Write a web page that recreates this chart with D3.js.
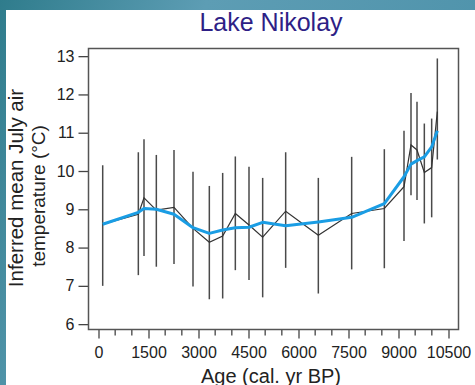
<!DOCTYPE html>
<html>
<head>
<meta charset="utf-8">
<script src="https://cdn.jsdelivr.net/npm/d3@7"></script>
<style>
  html, body { margin: 0; padding: 0; background: #fff; }
  svg { display: block; font-family: "Liberation Sans", Arial, sans-serif; }
</style>
</head>
<body>
<script>
// sample ages (cal. yr BP)
const ages = [126, 1195, 1365, 1735, 2265, 2835, 3325, 3725, 4105, 4515, 4925,
  5615, 6595, 7595, 8575, 9165, 9375, 9555, 9775, 9995, 10165];
// inferred July temperature (black line)
const temps = [8.61, 8.87, 9.30, 8.98, 9.05, 8.50, 8.14, 8.30, 8.89, 8.59, 8.27,
  8.95, 8.32, 8.89, 9.02, 9.59, 10.68, 10.55, 9.96, 10.09, 11.55];
// error bar ends
const errHigh = [10.15, 10.49, 10.83, 10.42, 10.55, 9.98, 9.61, 9.95, 10.38, 10.11, 9.82,
  10.49, 9.82, 10.37, 10.57, 11.05, 12.04, 11.81, 11.24, 11.37, 12.94];
const errLow = [7.00, 7.28, 7.78, 7.50, 7.57, 6.98, 6.65, 6.67, 7.41, 7.15, 6.70,
  7.47, 6.80, 7.43, 7.46, 8.17, 9.37, 9.24, 8.63, 8.79, 10.30];
// smoothed curve (blue)
const smooth = [8.61, 8.92, 9.02, 9.00, 8.87, 8.52, 8.37, 8.46, 8.52, 8.53, 8.66,
  8.57, 8.67, 8.79, 9.15, 9.85, 10.18, 10.27, 10.37, 10.63, 11.05];

const yTicks = [6, 7, 8, 9, 10, 11, 12, 13];
const xTicks = [0, 1500, 3000, 4500, 6000, 7500, 9000, 10500];
const xMinor = d3.range(0, 10501, 500).filter(v => v % 1500 !== 0);

const width = 475, height = 385;
const mLeft = 88.5, mRight = 458.5, mTop = 48.5, mBottom = 329.5;

const svg = d3.select("body").append("svg")
  .attr("width", width)
  .attr("height", height);

// teal background with white panel
const defs = svg.append("defs");
const grad = defs.append("linearGradient").attr("id", "bg")
  .attr("x1", 0).attr("y1", 0).attr("x2", 1).attr("y2", 0.3);
grad.append("stop").attr("offset", "0%").attr("stop-color", "#2f7c8c");
grad.append("stop").attr("offset", "40%").attr("stop-color", "#5d9db4");
grad.append("stop").attr("offset", "100%").attr("stop-color", "#4f93ab");
svg.append("rect").attr("width", width).attr("height", height).attr("fill", "url(#bg)");
svg.append("rect").attr("x", 6).attr("y", 10)
  .attr("width", width - 6).attr("height", height - 10).attr("fill", "#fff");

const x = d3.scaleLinear().domain([-300, 10800]).range([mLeft, mRight]);
const y = d3.scaleLinear().domain([5.86, 13.2]).range([mBottom, mTop]);

// title
svg.append("text")
  .attr("x", 271).attr("y", 31)
  .attr("text-anchor", "middle")
  .attr("font-size", 25)
  .attr("fill", "#2e1f86")
  .text("Lake Nikolay");

// y axis
const yAxis = svg.append("g")
  .attr("transform", "translate(" + mLeft + ",0)")
  .call(d3.axisLeft(y).tickValues(yTicks).tickSize(10).tickPadding(4));
yAxis.select(".domain").remove();
yAxis.selectAll("line").attr("stroke", "#444").attr("stroke-width", 1.3);
yAxis.selectAll("text").attr("font-size", 16).attr("fill", "#222")
  .attr("font-family", "Liberation Sans, Arial, sans-serif");

// x axis (major + minor)
const xAxis = svg.append("g")
  .attr("transform", "translate(0," + mBottom + ")")
  .call(d3.axisBottom(x).tickValues(xTicks).tickSize(9).tickPadding(8)
    .tickFormat(d3.format("d")));
xAxis.select(".domain").remove();
xAxis.selectAll("line").attr("stroke", "#444").attr("stroke-width", 1.3);
xAxis.selectAll("text").attr("font-size", 16).attr("fill", "#222")
  .attr("font-family", "Liberation Sans, Arial, sans-serif");

svg.append("g").selectAll("line")
  .data(xMinor)
  .join("line")
  .attr("x1", d => x(d)).attr("x2", d => x(d))
  .attr("y1", mBottom).attr("y2", mBottom + 6)
  .attr("stroke", "#444").attr("stroke-width", 1.3);

// frame
svg.append("rect")
  .attr("x", mLeft).attr("y", mTop)
  .attr("width", mRight - mLeft).attr("height", mBottom - mTop)
  .attr("fill", "none").attr("stroke", "#555").attr("stroke-width", 1.5);

// error bars
svg.append("g").selectAll("line")
  .data(ages)
  .join("line")
  .attr("x1", d => x(d)).attr("x2", d => x(d))
  .attr("y1", (d, i) => y(errHigh[i]))
  .attr("y2", (d, i) => y(errLow[i]))
  .attr("stroke", "#4a4a4a").attr("stroke-width", 1.5);

// reconstruction line
const line = d3.line()
  .x((d, i) => x(ages[i]))
  .y(d => y(d));

svg.append("path")
  .datum(temps)
  .attr("fill", "none")
  .attr("stroke", "#333")
  .attr("stroke-width", 1.2)
  .attr("d", line);

// smoothed curve
svg.append("path")
  .datum(smooth)
  .attr("fill", "none")
  .attr("stroke", "#1a9de4")
  .attr("stroke-width", 3)
  .attr("stroke-linejoin", "round")
  .attr("d", line);

// axis titles
svg.append("text")
  .attr("x", 271).attr("y", 383)
  .attr("text-anchor", "middle")
  .attr("font-size", 20)
  .attr("fill", "#222")
  .text("Age (cal. yr BP)");

svg.append("text")
  .attr("transform", "translate(23,188) rotate(-90)")
  .attr("text-anchor", "middle")
  .attr("font-size", 20.5)
  .attr("fill", "#222")
  .text("Inferred mean July air");

svg.append("text")
  .attr("transform", "translate(45,196) rotate(-90)")
  .attr("text-anchor", "middle")
  .attr("font-size", 19)
  .attr("fill", "#222")
  .text("temperature (°C)");
</script>
</body>
</html>
